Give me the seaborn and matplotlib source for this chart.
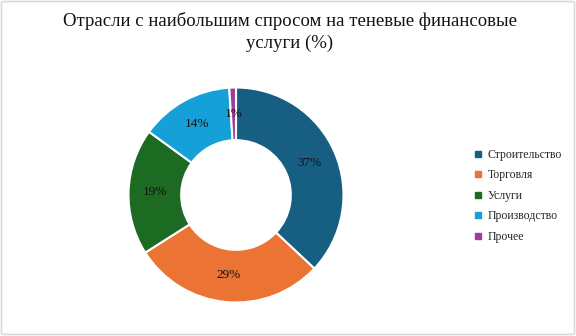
import matplotlib
matplotlib.use("Agg")
import matplotlib.pyplot as plt
from matplotlib.patches import FancyBboxPatch
from matplotlib.lines import Line2D
import seaborn as sns

categories = ["Строительство", "Торговля", "Услуги", "Производство", "Прочее"]
values = [37, 29, 19, 14, 1]
colors = ["#175F82", "#EB7333", "#1D6A22", "#16A0D8", "#A23B9C"]

sns.set_theme(style="white")
plt.rcParams['font.family'] = ['Liberation Serif', 'DejaVu Serif']

W, H = 576, 336
fig = plt.figure(figsize=(W / 100, H / 100), dpi=100)
fig.patch.set_facecolor("white")

cx, cy, r = 236, 195, 107.5
ax = fig.add_axes([(cx - r) / W, (H - cy - r) / H, 2 * r / W, 2 * r / H])
palette = sns.color_palette(colors)
wedges, texts, autotexts = ax.pie(
    values, colors=palette, startangle=90, counterclock=False,
    radius=1, autopct=lambda p: f"{p:.0f}%", pctdistance=0.75,
    wedgeprops=dict(width=0.49, edgecolor="white", linewidth=1.5),
    textprops=dict(fontsize=9.5, color="#111111"))
ax.set_xlim(-1, 1)
ax.set_ylim(-1, 1)
ax.axis("off")

fig.text(0.503, 1 - 12 / H, "Отрасли с наибольшим спросом на теневые финансовые\nуслуги (%)",
         ha="center", va="top", fontsize=13.5, color="#111111", linespacing=1.35)

handles = [Line2D([0], [0], marker="s", linestyle="", markersize=4,
                  markerfacecolor=c, markeredgecolor=c) for c in colors]
leg = fig.legend(handles, categories, loc="upper left",
                 bbox_to_anchor=(470 / W, 1 - 144 / H), frameon=False,
                 fontsize=8.5, handlelength=0.6, handletextpad=0.5,
                 labelspacing=0.72, borderaxespad=0)

border = FancyBboxPatch((1.5 / W, 1.5 / H), 1 - 3 / W, 1 - 3 / H,
                        boxstyle="round,pad=0,rounding_size=0.006",
                        transform=fig.transFigure, facecolor="none",
                        edgecolor="#D9D9D9", linewidth=1.2)
fig.patches.append(border)

fig.savefig("out.png", dpi=100)
